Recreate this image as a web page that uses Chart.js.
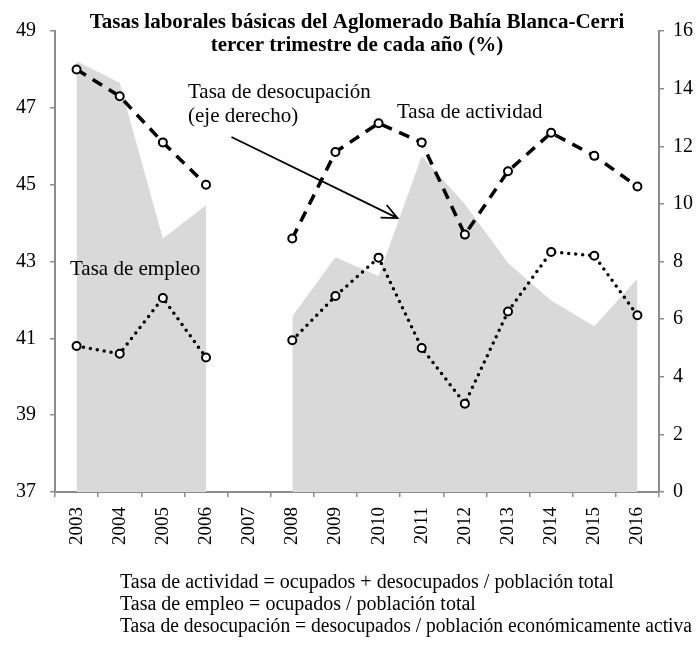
<!DOCTYPE html>
<html>
<head>
<meta charset="utf-8">
<script src="https://cdn.jsdelivr.net/npm/chart.js@4.4.1/dist/chart.umd.min.js"></script>
<style>
  html, body { margin: 0; padding: 0; background: #fff; }
  #wrap { width: 696px; height: 648px; }
</style>
</head>
<body>
<div id="wrap"><canvas id="tasas" width="696" height="648"></canvas></div>
<script>
// datos (tercer trimestre de cada año)
const years = ['2003', '2004', '2005', '2006', '2007', '2008', '2009', '2010', '2011', '2012', '2013', '2014', '2015', '2016'];
const actividad = [48.0, 47.3, 46.1, 45.0, null, 43.6, 45.85, 46.6, 46.1, 43.7, 45.35, 46.35, 45.75, 44.95];
const empleo = [40.8, 40.6, 42.05, 40.5, null, 40.95, 42.1, 43.1, 40.75, 39.3, 41.7, 43.25, 43.15, 41.6];
const desocupacion = [14.95, 14.2, 8.8, 9.95, null, 6.1, 8.15, 7.5, 11.65, 10.0, 7.95, 6.65, 5.75, 7.4];
const leftTicks = [37, 39, 41, 43, 45, 47, 49];
const rightTicks = [0, 2, 4, 6, 8, 10, 12, 14, 16];

const titleLines = ['Tasas laborales básicas del Aglomerado Bahía Blanca-Cerri', 'tercer trimestre de cada año (%)'];
const notes = [
    'Tasa de actividad = ocupados + desocupados / población total',
    'Tasa de empleo = ocupados / población total',
    'Tasa de desocupación = desocupados / población económicamente activa'
];

const SERIF = '"Liberation Serif", "Times New Roman", serif';
const AXIS_GRAY = '#8c8c8c';

// textos, flecha y titulo encima del grafico
const annotations = {
    id: 'annotations',
    afterDraw(chart) {
        const ctx = chart.ctx;
        const area = chart.chartArea;
        const x = chart.scales.x;
        const y = chart.scales.y;
        ctx.save();
        ctx.fillStyle = '#000';

        // titulo
        ctx.font = 'bold 21px ' + SERIF;
        ctx.textAlign = 'center';
        ctx.textBaseline = 'alphabetic';
        const cx = (area.left + area.right) / 2;
        ctx.fillText(titleLines[0], cx, 28);
        ctx.fillText(titleLines[1], cx, 51);

        // etiquetas de las series
        ctx.font = '21px ' + SERIF;
        ctx.textAlign = 'left';
        ctx.fillText('Tasa de desocupación', 188, 98);
        ctx.fillText('(eje derecho)', 188, 122);
        ctx.fillText('Tasa de actividad', 397, 118);
        ctx.fillText('Tasa de empleo', 70, 275);

        // flecha hacia el area de desocupacion
        const x0 = x.getPixelForValue(3.59), y0 = y.getPixelForValue(46.24);
        const x1 = x.getPixelForValue(7.44), y1 = y.getPixelForValue(44.13);
        const ang = Math.atan2(y1 - y0, x1 - x0);
        ctx.strokeStyle = '#000';
        ctx.lineWidth = 1.75;
        ctx.beginPath();
        ctx.moveTo(x0, y0);
        ctx.lineTo(x1, y1);
        ctx.moveTo(x1 - 17 * Math.cos(ang - 0.42), y1 - 17 * Math.sin(ang - 0.42));
        ctx.lineTo(x1, y1);
        ctx.lineTo(x1 - 17 * Math.cos(ang + 0.42), y1 - 17 * Math.sin(ang + 0.42));
        ctx.stroke();

        // notas al pie
        ctx.font = '20px ' + SERIF;
        notes.forEach((t, i) => ctx.fillText(t, 120, 588 + i * 22, 572));
        ctx.restore();
    }
};

new Chart(document.getElementById('tasas'), {
    type: 'line',
    data: {
        labels: years,
        datasets: [
            {
                label: 'Tasa de actividad',
                data: actividad,
                yAxisID: 'y',
                borderColor: '#000',
                borderWidth: 3.5,
                borderDash: [11, 8],
                pointRadius: 4,
                pointBorderWidth: 2,
                pointBackgroundColor: '#fff',
                pointBorderColor: '#000',
                fill: false,
                tension: 0,
                order: 1
            },
            {
                label: 'Tasa de empleo',
                data: empleo,
                yAxisID: 'y',
                borderColor: '#000',
                borderWidth: 3.5,
                borderDash: [0, 7],
                borderCapStyle: 'round',
                pointRadius: 4,
                pointBorderWidth: 2,
                pointBackgroundColor: '#fff',
                pointBorderColor: '#000',
                fill: false,
                tension: 0,
                order: 2
            },
            {
                label: 'Tasa de desocupación',
                data: desocupacion,
                yAxisID: 'y1',
                borderWidth: 0,
                borderColor: 'rgba(0,0,0,0)',
                backgroundColor: '#d9d9d9',
                pointRadius: 0,
                fill: 'origin',
                tension: 0,
                order: 3
            }
        ]
    },
    options: {
        responsive: false,
        animation: false,
        layout: { padding: { top: 31, left: 0, right: 0, bottom: 0 } },
        plugins: {
            legend: { display: false },
            title: { display: false },
            tooltip: { enabled: false }
        },
        scales: {
            x: {
                offset: true,
                afterFit: (s) => { s.height = 156; },
                grid: { display: true, drawOnChartArea: false, offset: true, tickLength: 5, tickColor: AXIS_GRAY, lineWidth: 1.5 },
                border: { color: AXIS_GRAY, width: 2 },
                ticks: {
                    autoSkip: false, minRotation: 90, maxRotation: 90, padding: 10,
                    color: '#000', font: { family: SERIF, size: 19 }
                }
            },
            y: {
                position: 'left',
                min: 37, max: 49,
                afterFit: (s) => { s.width = 55; },
                afterBuildTicks: (s) => { s.ticks = leftTicks.map(v => ({ value: v })); },
                grid: { display: true, drawOnChartArea: false, tickLength: 5, tickColor: AXIS_GRAY, lineWidth: 1.5 },
                border: { color: AXIS_GRAY, width: 2 },
                ticks: { padding: 14, color: '#000', font: { family: SERIF, size: 20 } }
            },
            y1: {
                position: 'right',
                min: 0, max: 16,
                afterFit: (s) => { s.width = 37; },
                afterBuildTicks: (s) => { s.ticks = rightTicks.map(v => ({ value: v })); },
                grid: { display: true, drawOnChartArea: false, tickLength: 5, tickColor: AXIS_GRAY, lineWidth: 1.5 },
                border: { color: AXIS_GRAY, width: 2 },
                ticks: { padding: 9, color: '#000', font: { family: SERIF, size: 20 } }
            }
        }
    },
    plugins: [annotations]
});
</script>
</body>
</html>
